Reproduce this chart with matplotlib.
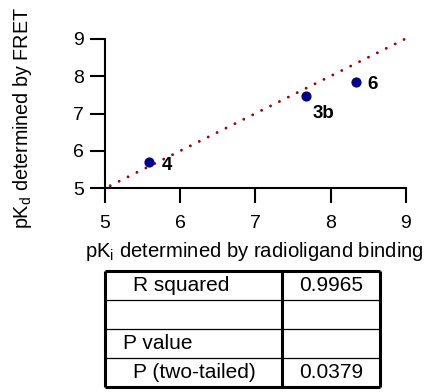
import matplotlib
matplotlib.use("Agg")
import matplotlib.pyplot as plt

plt.rcParams['font.family'] = ['Liberation Sans', 'DejaVu Sans']

# data
compounds = ["4", "3b", "6"]
pki = [5.59, 7.68, 8.34]
pkd = [5.70, 7.46, 7.84]
label_offsets = [(12, -3), (6, -17), (11, -2)]  # pixels
fit_x = [5, 9]
fit_y = [5, 9]

table_rows = [["R squared", "0.9965"], ["", ""], ["P value", ""], ["P (two-tailed)", "0.0379"]]
row_indent = [28, 0, 18, 28]

W, H = 428, 392
fig = plt.figure(figsize=(W / 100, H / 100), dpi=100)

ax = fig.add_axes([105 / W, 1 - 188.3 / H, 300.7 / W, 149.6 / H])
ax.plot(fit_x, fit_y, color="#a00000", lw=2.1, linestyle=(-2.0, (0.01, 3.4)),
        dash_capstyle="round", zorder=2.6, clip_on=False)
ax.scatter(pki, pkd, s=40, color="#00008b", zorder=3, clip_on=False)
for name, x, y, off in zip(compounds, pki, pkd, label_offsets):
    ax.annotate(name, (x, y), xytext=off, textcoords="offset pixels",
                fontsize=13.5, fontweight="bold", va="center", ha="left")

ax.set_xlim(5, 9)
ax.set_ylim(5, 9)
ax.set_xticks([5, 6, 7, 8, 9])
ax.set_yticks([5, 6, 7, 8, 9])
for s in ["top", "right"]:
    ax.spines[s].set_visible(False)
for s in ["left", "bottom"]:
    ax.spines[s].set_linewidth(1.5)
ax.tick_params(axis="both", direction="out", length=11, width=1.5, labelsize=14)
ax.tick_params(axis="x", pad=8)
ax.tick_params(axis="y", pad=4)
ax.set_xlabel("pK$_\\mathregular{i}$ determined by radioligand binding", fontsize=14.6)
ax.set_ylabel("pK$_\\mathregular{d}$ determined by FRET", fontsize=14.2)
ax.xaxis.set_label_coords(0.497, -0.345)
ax.yaxis.set_label_coords(-0.235, 0.467)

# table
tx0, tx1, ty0, ty1 = 105, 380, 271, 387
tab = fig.add_axes([tx0 / W, 1 - ty1 / H, (tx1 - tx0) / W, (ty1 - ty0) / H])
tab.set_xlim(tx0, tx1)
tab.set_ylim(ty1, ty0)
tab.axis("off")
col_split = 282
nrows = len(table_rows)
row_h = (ty1 - ty0) / nrows
thick, thin = 2.2, 0.9
tab.vlines([tx0, col_split, tx1], ty0, ty1, color="k", lw=thick, clip_on=False)
tab.hlines([ty0, ty1], tx0, tx1, color="k", lw=thick, clip_on=False)
tab.hlines([ty0 + row_h * i for i in range(1, nrows)], tx0, tx1, color="k", lw=thin)
for i, (row, ind) in enumerate(zip(table_rows, row_indent)):
    yc = ty0 + row_h * (i + 0.5)
    tab.text(tx0 + ind, yc, row[0], fontsize=15, va="center", ha="left")
    tab.text((col_split + tx1) / 2, yc, row[1], fontsize=15, va="center", ha="center")

fig.savefig("out.png", dpi=100)
